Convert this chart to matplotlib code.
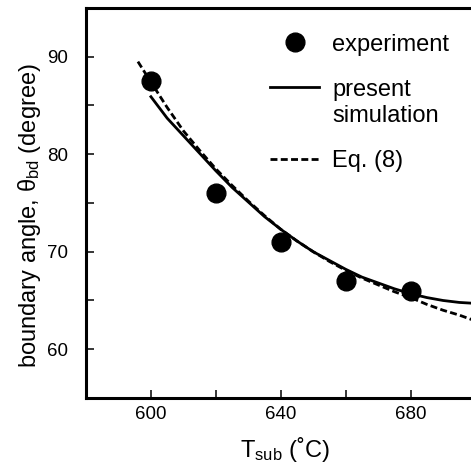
import numpy as np
import matplotlib
matplotlib.use('Agg')
from matplotlib import pyplot as plt
from matplotlib.legend_handler import HandlerLine2D

plt.rcParams['font.family'] = ['Liberation Sans', 'DejaVu Sans']
plt.rcParams['mathtext.fontset'] = 'custom'
plt.rcParams['mathtext.rm'] = 'Liberation Sans'
plt.rcParams['mathtext.it'] = 'Liberation Sans:italic'

# experiment
exp_t = [600, 620, 640, 660, 680]
exp_angle = [87.5, 76.0, 71.0, 67.0, 66.0]

# present simulation
sim_t = [600, 605, 610, 615, 620, 625, 630, 635, 640, 645, 650,
         655, 660, 665, 670, 675, 680, 685, 690, 695, 700]
sim_angle = [85.9, 83.7, 81.9, 80.1, 78.3, 76.6, 75.1, 73.6, 72.3, 71.1, 70.0,
             69.1, 68.2, 67.4, 66.8, 66.2, 65.7, 65.3, 65.0, 64.8, 64.7]

# Eq. (8)
eq_t = [596, 600, 605, 610, 615, 620, 625, 630, 635, 640, 645, 650,
        655, 660, 665, 670, 675, 680, 685, 690, 695, 700]
eq_angle = [89.5, 87.4, 84.8, 82.4, 80.4, 78.5, 76.8, 75.2, 73.7, 72.3, 71.1, 70.0,
            69.0, 68.1, 67.3, 66.6, 65.9, 65.3, 64.6, 64.0, 63.5, 62.9]


class RaisedLine(HandlerLine2D):
    # put the line sample next to the first text line of a two-line label
    def create_artists(self, legend, orig_handle, xdescent, ydescent,
                       width, height, fontsize, trans):
        return super().create_artists(legend, orig_handle, xdescent, ydescent - 23,
                                      width, height, fontsize, trans)


fig = plt.figure(figsize=(4.71, 4.73), dpi=100)
ax = fig.add_axes([0.1826, 0.1586, 0.827, 0.8245])

ax.plot(exp_t, exp_angle, 'o', color='black', markersize=13.5, label='experiment')
sim_line, = ax.plot(sim_t, sim_angle, '-', color='black', lw=2, label='present\nsimulation')
ax.plot(eq_t, eq_angle, color='black', lw=2, linestyle=(0, (2.5, 1.2)), label='Eq. (8)')

ax.set_xlim(580, 700)
ax.set_ylim(55, 95)
ax.set_xticks([600, 640, 680])
ax.set_xticks([620, 660], minor=True)
ax.set_yticks([60, 70, 80, 90])
ax.set_yticks([65, 75, 85], minor=True)

for s in ax.spines.values():
    s.set_linewidth(2.2)
ax.tick_params(which='both', direction='in', length=6, width=1.1, top=False, right=False)
ax.tick_params(axis='x', labelsize=13.5, pad=6)
ax.tick_params(axis='y', labelsize=13.5, pad=13)

ax.set_xlabel('T$_{\\rm sub}$ (˚C)', fontsize=17)
ax.set_ylabel('boundary angle, θ$_{\\rm bd}$ (degree)', fontsize=17)
ax.xaxis.set_label_coords(0.51, -0.095)
ax.yaxis.set_label_coords(-0.110, 0.467)

ax.legend(loc='upper left', bbox_to_anchor=(0.472, 0.934), frameon=False, fontsize=17,
          handlelength=2.1, handletextpad=0.55, borderpad=0, borderaxespad=0,
          labelspacing=1.0, numpoints=1, handler_map={sim_line: RaisedLine()})

fig.savefig('out.png', dpi=100)
